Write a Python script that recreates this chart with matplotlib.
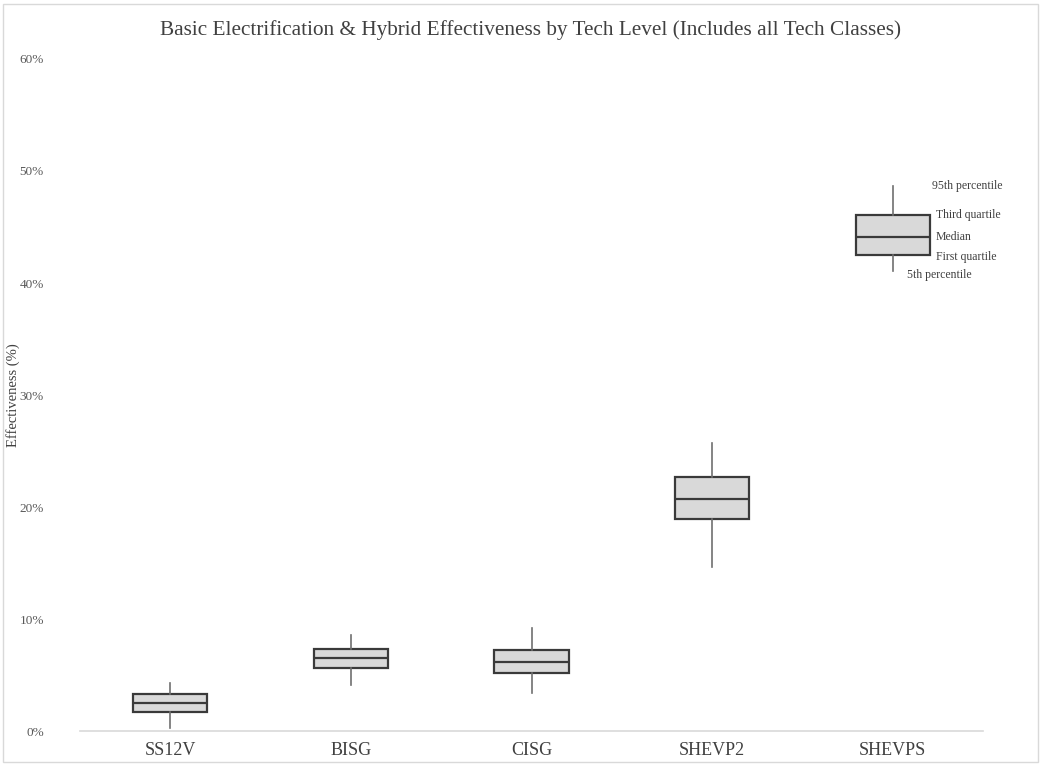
import matplotlib
matplotlib.use('Agg')
import matplotlib.pyplot as plt
import matplotlib.ticker as mticker
from matplotlib.patches import Rectangle

# values (fraction)
techs = ['SS12V', 'BISG', 'CISG', 'SHEVP2', 'SHEVPS']
p5 = [0.003, 0.041, 0.034, 0.146, 0.411]
q1 = [0.017, 0.056, 0.052, 0.189, 0.425]
med = [0.025, 0.065, 0.062, 0.207, 0.441]
q3 = [0.033, 0.073, 0.072, 0.227, 0.461]
p95 = [0.043, 0.086, 0.092, 0.257, 0.487]

plt.rcParams['font.family'] = ['Liberation Serif', 'DejaVu Serif']

fig = plt.figure(figsize=(10.41, 7.66), dpi=100)
ax = fig.add_axes([80 / 1041, 1 - 731 / 766, 903 / 1041, 672 / 766])

stats = []
for i in range(len(techs)):
    stats.append({'label': techs[i], 'whislo': p5[i], 'q1': q1[i], 'med': med[i],
                  'q3': q3[i], 'whishi': p95[i], 'fliers': []})

ax.bxp(stats, positions=range(len(techs)), widths=0.41, patch_artist=True,
       showcaps=False, showfliers=False,
       boxprops=dict(facecolor='#d9d9d9', edgecolor='#3a3a3a', linewidth=1.6),
       medianprops=dict(color='#3a3a3a', linewidth=1.6),
       whiskerprops=dict(color='#6f6f6f', linewidth=1.2))

ax.set_xlim(-0.5, len(techs) - 0.5)
ax.set_ylim(0, 0.6)
ax.yaxis.set_major_locator(mticker.MultipleLocator(0.1))
ax.yaxis.set_major_formatter(mticker.PercentFormatter(1.0, decimals=0))

for s in ['top', 'right', 'left']:
    ax.spines[s].set_visible(False)
ax.spines['bottom'].set_color('#d9d9d9')
ax.spines['bottom'].set_linewidth(1.2)
ax.tick_params(axis='y', length=0, pad=26, labelsize=9.5, labelcolor='#595959')
ax.tick_params(axis='x', length=0, pad=8, labelsize=13, labelcolor='#404040')

ax.set_ylabel('Effectiveness (%)', fontsize=10.5, color='#404040')
ax.yaxis.set_label_coords(-60 / 903, 0.5)
fig.suptitle('Basic Electrification & Hybrid Effectiveness by Tech Level (Includes all Tech Classes)',
             x=530 / 1041, y=1 - 30 / 766, va='center', fontsize=15.3, color='#404040')

# labels for the SHEVPS box
i = len(techs) - 1
ann = dict(fontsize=8.5, color='#404040', va='center')
ax.text(i + 0.22, p95[i], '95th percentile', **ann)
ax.text(i + 0.24, q3[i], 'Third quartile', **ann)
ax.text(i + 0.24, med[i], 'Median', **ann)
ax.text(i + 0.24, q1[i] - 0.002, 'First quartile', **ann)
ax.text(i + 0.08, p5[i] - 0.004, '5th percentile', **ann)

# chart border
fig.patches.append(Rectangle((0.003, 0.005), 0.994, 0.99, transform=fig.transFigure,
                             fill=False, edgecolor='#d9d9d9', linewidth=1))

fig.savefig('out.png', dpi=100)
